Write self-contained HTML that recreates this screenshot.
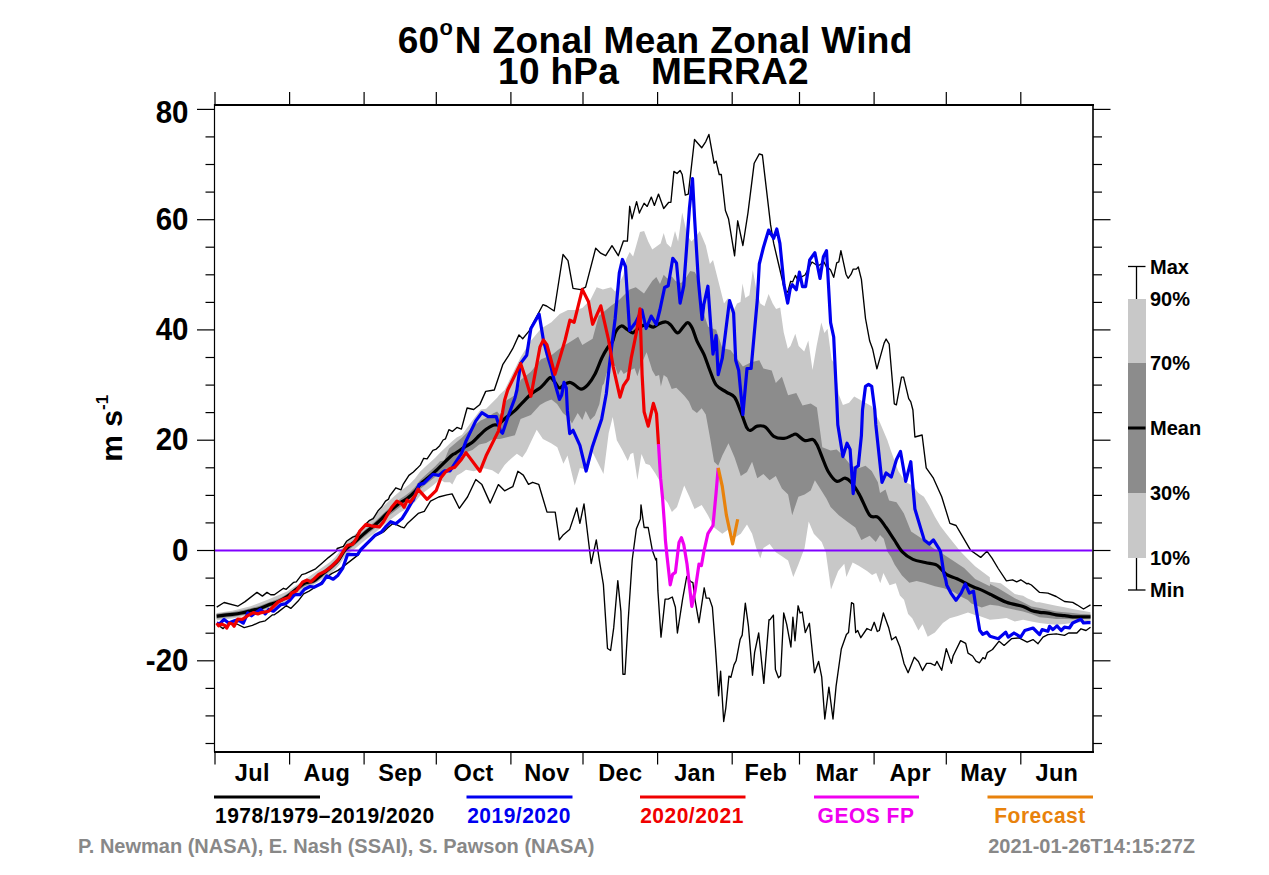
<!DOCTYPE html><html><head><meta charset="utf-8"><style>html,body{margin:0;padding:0;background:#fff;overflow:hidden}svg{display:block}</style></head><body><svg width="1269" height="875" viewBox="0 0 1269 875">
<rect width="100%" height="100%" fill="#fff"/>
<path d="M216.7,613.0 L232.3,610.7 L250.6,606.2 L268.8,599.3 L287.1,591.5 L305.4,579.2 L330.0,562.0 L335.0,557.2 L340.0,551.1 L345.0,543.1 L350.0,538.5 L355.0,534.2 L360.0,529.4 L365.0,524.4 L370.0,519.8 L375.0,515.3 L380.0,510.2 L385.0,504.8 L390.0,500.0 L395.0,495.6 L400.0,491.3 L405.0,487.8 L410.0,483.7 L415.0,478.6 L420.0,471.7 L425.0,466.9 L430.0,462.5 L435.0,457.9 L440.0,452.8 L451.9,441.6 L456.7,437.5 L462.1,434.8 L466.9,427.9 L472.4,420.4 L480.7,409.4 L486.1,408.7 L491.6,403.2 L497.1,397.7 L499.2,395.0 L504.6,390.0 L520.6,357.3 L530.9,340.8 L541.1,328.5 L551.4,322.3 L559.7,314.1 L567.9,309.9 L576.1,309.9 L582.3,307.9 L590.5,299.7 L596.7,287.3 L602.9,289.4 L611.1,287.3 L615.2,291.4 L623.4,275.0 L626.3,258.9 L629.7,252.0 L633.1,256.6 L638.9,236.0 L640.0,232.1 L644.1,231.1 L648.2,241.4 L652.3,249.6 L660.6,243.4 L663.7,233.1 L666.7,243.4 L670.9,247.5 L675.0,231.1 L678.1,241.4 L682.2,212.6 L687.3,235.2 L691.4,241.4 L695.5,237.3 L699.7,231.1 L705.8,245.5 L709.9,264.0 L713.0,259.9 L718.2,280.5 L724.0,303.5 L728.1,298.0 L732.9,311.7 L737.0,303.5 L740.5,302.1 L742.5,283.6 L745.3,298.0 L749.4,295.3 L752.8,269.9 L756.2,288.4 L760.3,303.5 L764.5,306.2 L768.6,293.9 L772.7,303.5 L776.1,309.0 L780.2,307.6 L783.7,332.3 L787.8,348.7 L790.5,346.0 L795.3,333.7 L798.7,346.0 L804.2,351.5 L808.3,340.5 L812.5,370.0 L816.6,346.0 L821.3,322.6 L824.4,332.9 L827.5,328.7 L831.6,359.6 L834.7,363.7 L838.8,394.6 L842.9,404.9 L849.1,402.8 L854.2,396.6 L871.7,406.2 L879.9,422.6 L887.3,440.0 L891.0,451.0 L898.3,471.1 L905.6,482.1 L912.9,485.7 L918.4,493.0 L923.9,496.7 L929.4,505.9 L934.9,516.8 L940.4,526.0 L945.9,533.3 L953.2,542.4 L960.5,551.6 L967.8,558.9 L975.1,566.2 L982.4,571.7 L989.8,577.2 L990.0,581.7 L1000.8,583.3 L1006.5,587.4 L1014.8,594.1 L1019.0,594.9 L1023.1,595.7 L1027.2,598.2 L1031.4,599.9 L1036.3,602.3 L1039.6,602.3 L1047.9,604.0 L1056.2,605.7 L1064.5,607.3 L1072.7,609.0 L1081.0,610.6 L1090.5,612.3 L1090.5,621.4 L1081.0,622.2 L1072.7,623.0 L1064.5,623.9 L1056.2,624.7 L1047.9,623.9 L1039.6,623.0 L1031.4,621.4 L1023.1,619.7 L1014.8,621.4 L1006.5,618.1 L998.3,618.9 L990.0,619.7 L979.4,616.0 L974.9,614.9 L968.0,612.6 L957.7,616.0 L949.7,618.3 L942.9,622.9 L934.9,632.6 L927.7,636.7 L922.5,624.3 L918.4,630.5 L912.2,618.2 L908.1,614.1 L904.0,599.7 L899.9,595.5 L895.8,583.2 L889.6,585.3 L883.4,572.9 L880.3,583.2 L876.2,572.9 L872.1,575.0 L867.0,570.9 L858.7,565.7 L852.6,562.6 L846.4,577.0 L844.3,563.7 L838.2,570.9 L831.0,589.4 L825.8,552.3 L821.7,542.1 L813.8,533.7 L808.7,521.4 L804.6,548.1 L798.4,564.6 L793.3,576.9 L788.1,560.5 L781.9,556.3 L775.8,552.2 L769.6,544.0 L763.4,548.1 L760.3,558.4 L756.2,548.1 L752.1,533.7 L747.0,524.5 L740.8,533.7 L734.6,537.8 L728.5,529.6 L722.3,533.7 L714.1,527.5 L707.9,515.2 L701.7,504.9 L694.5,509.0 L689.4,496.7 L684.2,485.4 L677.0,507.0 L671.9,512.1 L667.8,502.9 L662.6,496.7 L660.0,481.5 L655.2,473.3 L649.7,465.0 L645.6,463.7 L641.5,454.1 L637.4,480.1 L633.3,452.7 L630.5,454.1 L627.8,460.9 L622.3,449.9 L616.8,440.3 L612.7,417.0 L608.7,432.9 L603.5,474.1 L598.4,463.8 L592.2,451.4 L588.1,469.9 L579.9,467.9 L574.7,485.4 L567.5,455.5 L563.4,463.8 L557.3,447.3 L551.1,443.2 L542.9,439.1 L536.7,429.8 L526.4,451.4 L522.3,457.6 L516.9,453.8 L510.7,458.9 L504.6,465.1 L498.4,474.3 L492.2,470.2 L484.0,468.2 L473.7,471.3 L466.0,469.7 L461.4,473.1 L456.9,475.4 L452.3,484.6 L450.0,482.3 L444.3,482.3 L440.0,479.3 L435.0,483.7 L430.0,487.8 L425.0,491.6 L420.0,495.7 L415.0,502.0 L410.0,506.4 L405.0,509.8 L400.0,512.6 L395.0,516.3 L390.0,520.0 L385.0,524.0 L380.0,528.5 L375.0,532.8 L370.0,536.5 L365.0,540.2 L360.0,544.4 L355.0,548.7 L350.0,552.5 L345.0,556.6 L340.0,564.1 L335.0,569.7 L330.0,574.0 L305.4,590.2 L287.1,602.0 L268.8,609.8 L250.6,614.8 L232.3,618.5 L216.7,620.3 Z" fill="#c8c8c8"/>
<path d="M216.5,613.7 L220.5,613.2 L224.5,612.7 L228.5,612.3 L232.5,611.9 L236.5,611.3 L240.5,610.6 L244.5,609.7 L248.5,608.7 L252.5,607.7 L256.5,606.7 L260.5,605.6 L264.5,604.0 L268.5,602.4 L272.5,601.0 L276.5,599.6 L280.5,597.7 L284.5,595.5 L288.5,593.0 L292.5,589.8 L296.5,586.6 L300.5,583.7 L304.5,580.8 L308.5,579.4 L312.5,578.3 L316.5,575.9 L320.5,572.7 L330.0,565.0 L335.0,560.5 L340.0,554.7 L345.0,547.0 L350.0,542.7 L355.0,538.7 L360.0,534.2 L365.0,529.7 L370.0,525.5 L375.0,521.5 L380.0,516.8 L385.0,511.9 L390.0,507.5 L395.0,503.3 L400.0,499.1 L405.0,495.8 L410.0,491.9 L415.0,487.0 L420.0,480.2 L425.0,475.4 L430.0,471.0 L435.0,466.4 L440.0,461.3 L444.3,460.6 L449.1,448.5 L462.1,437.5 L467.6,432.0 L473.8,425.9 L480.7,420.4 L487.5,417.6 L493.0,413.5 L497.1,411.5 L499.9,414.9 L506.6,400.3 L516.9,394.1 L520.6,379.9 L530.9,371.7 L541.1,359.3 L551.4,355.2 L561.7,347.0 L572.0,340.8 L578.2,336.7 L582.3,344.9 L592.6,338.7 L598.7,316.1 L611.1,305.8 L619.3,299.7 L629.6,289.4 L635.8,287.3 L644.0,293.5 L652.2,281.1 L656.3,277.0 L660.0,283.9 L663.7,274.7 L667.3,278.4 L671.9,276.6 L675.5,281.1 L681.0,283.0 L685.6,278.4 L690.2,271.1 L694.7,272.0 L698.4,278.4 L700.0,307.6 L704.1,314.5 L708.2,326.8 L715.1,329.5 L716.1,329.4 L722.3,347.9 L730.5,349.9 L736.7,358.2 L742.9,366.4 L751.1,362.3 L759.3,360.2 L763.4,368.5 L771.7,370.5 L775.8,382.9 L781.9,376.7 L788.1,395.2 L796.3,393.1 L802.5,405.5 L810.7,403.4 L816.9,407.5 L822.3,447.3 L830.6,450.4 L836.7,449.4 L842.9,455.5 L851.1,465.8 L859.4,467.9 L865.5,465.8 L871.7,471.0 L877.9,482.3 L880.0,493.0 L885.5,489.4 L889.1,500.4 L896.5,502.2 L903.8,513.2 L911.1,531.5 L922.1,538.8 L933.0,547.9 L942.2,553.4 L953.2,560.7 L964.1,568.0 L975.1,579.0 L989.8,586.3 L990.0,584.1 L998.3,588.3 L1006.5,593.2 L1014.8,598.2 L1023.1,602.3 L1031.4,606.5 L1039.6,608.1 L1047.9,609.8 L1056.2,611.4 L1064.5,612.3 L1072.7,613.1 L1081.0,613.9 L1090.5,614.3 L1090.5,618.5 L1081.0,618.9 L1072.7,619.3 L1064.5,618.9 L1056.2,618.9 L1047.9,618.1 L1039.6,617.2 L1031.4,613.9 L1023.1,611.4 L1014.8,609.8 L1006.5,608.1 L998.3,605.7 L990.0,604.8 L981.7,607.5 L971.4,603.4 L967.8,600.1 L962.3,597.3 L953.2,591.8 L944.0,588.2 L934.9,586.3 L923.9,582.7 L916.6,580.9 L909.3,582.7 L902.0,575.4 L894.6,564.4 L891.0,557.1 L887.3,551.6 L883.7,538.8 L880.0,535.1 L875.8,541.9 L869.7,535.8 L861.4,539.9 L855.3,527.5 L847.0,521.4 L838.8,515.2 L830.6,507.0 L826.5,498.7 L814.9,480.2 L810.7,490.5 L804.6,494.6 L798.4,496.7 L792.2,515.2 L788.1,494.6 L781.9,488.5 L775.8,476.1 L769.6,480.2 L763.4,474.1 L757.3,478.2 L752.1,461.7 L747.0,472.0 L740.8,476.1 L734.6,457.6 L728.5,443.2 L722.3,455.5 L718.2,465.8 L714.1,461.7 L709.9,437.0 L705.8,414.4 L701.7,408.2 L696.9,412.9 L692.3,409.4 L688.9,401.4 L684.3,395.7 L680.9,392.3 L676.3,387.7 L671.7,388.9 L667.1,377.4 L663.7,375.1 L660.9,386.6 L659.1,375.1 L655.7,376.3 L652.3,370.6 L646.6,352.3 L640.9,364.9 L637.4,376.3 L634.6,368.3 L627.1,371.7 L623.7,374.0 L620.9,369.4 L618.0,375.1 L615.1,366.0 L610.0,363.7 L606.3,374.3 L604.0,383.4 L602.3,385.7 L599.4,404.0 L594.9,415.4 L590.3,420.0 L585.7,410.9 L582.3,420.0 L577.7,413.1 L572.0,423.4 L568.6,417.7 L562.9,413.1 L557.1,404.0 L551.4,399.4 L545.7,401.7 L540.0,405.1 L530.9,414.9 L520.6,419.0 L514.9,435.3 L499.9,438.9 L493.0,438.9 L486.1,443.0 L479.3,444.4 L472.4,449.9 L458.7,455.0 L450.0,470.9 L444.3,474.3 L440.0,472.3 L435.0,476.9 L430.0,481.0 L425.0,484.9 L420.0,489.2 L415.0,495.7 L410.0,500.3 L405.0,504.0 L400.0,507.0 L395.0,510.9 L390.0,514.8 L385.0,519.0 L380.0,523.8 L375.0,528.3 L370.0,532.2 L365.0,536.2 L360.0,540.6 L355.0,545.0 L350.0,549.0 L345.0,553.2 L340.0,560.8 L335.0,566.5 L330.0,571.0 L320.5,578.5 L316.5,581.7 L312.5,584.0 L308.5,584.9 L304.5,586.2 L300.5,589.0 L296.5,591.8 L292.5,594.9 L288.5,598.0 L284.5,600.5 L280.5,602.7 L276.5,604.6 L272.5,606.0 L268.5,607.4 L264.5,609.0 L260.5,610.6 L256.5,611.7 L252.5,612.7 L248.5,613.7 L244.5,614.7 L240.5,615.6 L236.5,616.3 L232.5,616.9 L228.5,617.3 L224.5,617.7 L220.5,618.2 L216.5,618.7 Z" fill="#8c8c8c"/>
<path d="M216.7,607.1 L224.1,602.5 L237.8,606.2 L245.1,601.6 L257.0,592.4 L262.4,596.1 L267.0,592.4 L270.7,594.7 L274.3,594.7 L283.5,588.3 L286.2,589.3 L293.5,582.4 L296.3,581.9 L301.8,574.6 L305.4,573.7 L315.6,568.8 L322.0,563.2 L328.4,557.6 L336.4,551.2 L337.2,548.5 L343.4,546.4 L346.5,541.3 L352.6,537.1 L355.7,536.1 L359.8,531.0 L362.9,526.9 L369.1,520.7 L373.2,518.6 L378.3,510.4 L381.4,507.3 L385.5,501.1 L388.6,499.1 L389.7,496.0 L395.8,487.8 L401.0,489.8 L403.0,484.7 L408.9,475.4 L413.4,472.0 L416.9,468.6 L420.3,465.1 L423.7,458.3 L427.1,458.9 L432.9,450.3 L436.3,449.1 L439.7,445.7 L443.1,440.0 L445.4,438.9 L448.9,429.7 L452.3,431.4 L456.9,427.4 L461.4,429.1 L464.9,416.0 L467.1,408.0 L473.7,409.5 L479.9,404.4 L485.7,391.4 L494.3,390.0 L502.9,364.3 L508.6,355.7 L512.7,348.7 L519.0,334.9 L522.7,338.7 L529.0,331.1 L542.9,304.7 L546.6,306.0 L550.4,308.5 L554.2,311.0 L563.0,254.5 L568.0,260.7 L573.0,288.4 L580.6,289.7 L585.6,287.1 L595.7,248.2 L600.7,253.2 L605.7,255.7 L612.0,245.7 L618.3,255.7 L623.4,241.0 L627.4,241.1 L629.7,206.3 L632.0,218.9 L636.6,201.7 L639.4,213.1 L640.0,211.5 L644.1,203.3 L647.2,206.4 L651.3,197.1 L654.4,205.4 L658.5,194.1 L663.7,208.5 L668.8,202.3 L670.9,202.3 L673.9,171.4 L677.0,173.5 L680.1,170.4 L682.2,174.5 L685.3,195.1 L688.3,194.1 L694.5,139.5 L701.7,147.8 L705.8,141.6 L708.9,134.4 L714.1,163.2 L716.1,161.1 L719.2,174.5 L721.3,174.5 L725.4,210.5 L728.5,218.7 L734.6,255.8 L737.7,220.8 L742.9,245.5 L748.0,212.6 L754.2,163.2 L759.3,153.9 L762.4,155.0 L770.6,224.9 L773.7,243.4 L779.5,268.0 L783.7,286.1 L785.1,290.9 L787.8,292.2 L790.6,281.3 L792.6,281.9 L795.4,275.4 L797.4,279.2 L805.0,275.0 L812.0,262.0 L818.0,266.0 L824.0,262.0 L826.9,268.0 L827.5,267.0 L830.6,270.1 L833.7,277.3 L836.7,262.9 L838.8,261.9 L840.9,250.6 L846.0,274.2 L848.1,278.3 L851.1,274.2 L853.2,269.1 L856.3,269.1 L858.3,267.0 L861.4,279.4 L865.5,318.5 L869.7,341.1 L872.7,349.3 L876.9,368.9 L884.1,343.1 L886.1,339.0 L889.2,344.2 L894.3,403.8 L896.4,404.9 L901.5,377.1 L903.6,377.1 L908.7,398.7 L910.8,401.8 L912.9,410.0 L914.9,437.0 L922.1,435.0 L926.2,467.9 L933.4,478.2 L941.7,496.7 L949.9,523.4 L956.1,525.5 L962.2,535.8 L970.5,550.2 L980.7,557.4 L986.9,551.2 L992.0,558.2 L998.2,568.5 L1006.4,580.8 L1012.6,579.8 L1016.7,581.8 L1020.8,579.8 L1027.0,583.9 L1028.1,583.3 L1031.4,585.0 L1039.6,592.4 L1047.9,593.2 L1056.2,596.5 L1064.5,601.5 L1072.7,602.3 L1076.9,604.8 L1083.5,609.0 L1090.5,604.8" fill="none" stroke="#000" stroke-width="1.35" stroke-linejoin="round"/>
<path d="M216.7,624.0 L223.1,628.6 L228.6,624.0 L236.9,624.0 L244.2,627.6 L252.4,625.4 L259.7,622.2 L265.2,620.8 L272.5,614.8 L274.3,614.8 L278.0,612.1 L286.2,605.7 L290.8,608.4 L298.1,601.1 L303.6,593.8 L309.1,591.1 L318.8,584.8 L325.2,578.4 L331.6,573.6 L338.0,570.4 L344.4,565.6 L358.5,554.6 L360.9,549.5 L369.1,542.3 L375.3,536.1 L383.5,532.0 L387.6,527.9 L392.7,523.8 L396.9,524.8 L401.0,526.9 L404.1,527.9 L407.1,523.8 L418.2,513.4 L424.3,511.4 L430.5,501.1 L438.7,497.0 L447.0,494.9 L452.1,493.9 L459.3,508.3 L467.5,497.0 L475.8,479.5 L481.9,484.6 L490.2,503.1 L498.4,484.6 L504.6,490.8 L512.8,486.7 L517.9,471.3 L523.3,475.1 L528.5,484.3 L532.6,482.3 L538.7,484.3 L547.0,512.1 L555.2,512.1 L559.3,539.9 L563.4,534.7 L569.6,529.6 L576.8,508.0 L579.9,523.4 L584.0,503.9 L591.2,563.5 L596.3,539.9 L599.3,560.0 L603.4,584.7 L607.5,648.5 L610.6,650.5 L613.7,627.9 L617.8,580.6 L620.9,611.4 L622.9,674.2 L625.0,674.2 L628.1,621.7 L632.2,560.0 L636.3,529.1 L640.4,518.9 L641.0,504.9 L644.1,527.5 L648.2,527.5 L652.3,550.2 L655.8,560.0 L656.5,558.4 L657.5,580.0 L657.9,590.9 L661.0,637.1 L665.1,599.1 L668.2,599.1 L672.3,597.0 L675.4,607.3 L677.4,633.0 L682.6,599.1 L686.7,576.5 L690.8,581.6 L692.9,582.6 L694.9,599.1 L699.0,622.7 L704.2,587.8 L706.2,598.1 L709.3,598.1 L712.4,607.3 L715.5,648.5 L718.6,695.8 L720.6,671.1 L723.7,721.5 L725.8,708.1 L728.9,676.2 L730.9,677.3 L734.0,664.9 L736.1,660.8 L740.2,639.2 L742.2,635.1 L745.3,603.2 L748.4,625.8 L752.5,675.2 L754.6,652.6 L758.7,633.0 L763.8,683.4 L769.0,619.7 L770.0,619.7 L773.4,615.1 L775.4,669.6 L778.5,677.8 L780.6,675.8 L783.7,613.0 L786.7,624.3 L790.9,647.0 L792.9,617.1 L795.0,640.8 L798.1,605.8 L800.1,613.0 L802.2,612.0 L805.3,632.6 L809.4,623.3 L814.5,672.7 L818.6,661.4 L821.7,676.8 L824.8,719.0 L828.9,687.1 L833.0,719.0 L836.1,686.1 L841.3,649.0 L846.4,634.6 L848.5,632.6 L851.5,602.7 L853.6,603.8 L855.7,632.6 L857.7,630.5 L860.8,637.7 L867.0,628.5 L871.1,630.5 L874.2,622.3 L877.3,631.5 L879.3,630.5 L883.4,613.0 L888.6,627.4 L891.7,639.8 L895.8,636.7 L899.9,647.0 L904.0,663.4 L908.1,672.7 L914.3,657.3 L918.4,661.4 L922.5,670.6 L926.6,663.4 L930.7,663.4 L934.9,665.5 L936.9,661.4 L941.7,670.3 L946.3,648.6 L951.4,663.4 L953.1,656.0 L960.6,640.6 L965.7,643.4 L968.0,653.1 L972.6,656.0 L976.0,661.1 L979.4,662.9 L982.9,657.7 L985.1,658.9 L987.4,652.6 L992.5,649.5 L999.1,641.2 L1004.1,645.4 L1011.5,638.7 L1019.0,637.9 L1027.2,642.1 L1033.0,639.6 L1038.0,643.7 L1043.0,637.1 L1047.9,634.6 L1056.2,633.8 L1064.5,635.4 L1068.6,633.0 L1076.9,633.0 L1081.0,628.8 L1086.0,630.5 L1090.5,627.2" fill="none" stroke="#000" stroke-width="1.35" stroke-linejoin="round"/>
<line x1="215" y1="550.5" x2="1092" y2="550.5" stroke="#8000ff" stroke-width="2.2"/>
<path d="M216.7,616.2 C217.8,616.1 220.5,615.6 223.1,615.3 C225.7,615.0 229.2,614.8 232.3,614.4 C235.4,614.0 238.4,613.6 241.4,613.0 C244.4,612.4 247.6,611.5 250.6,610.7 C253.6,609.9 256.7,609.4 259.7,608.4 C262.7,607.4 265.8,605.9 268.8,604.8 C271.9,603.7 274.9,603.0 278.0,601.6 C281.1,600.2 284.1,598.7 287.1,596.6 C290.2,594.5 293.2,591.6 296.3,589.3 C299.4,587.0 302.4,584.3 305.4,582.9 C308.3,581.5 311.2,582.2 314.0,580.8 C316.8,579.4 319.3,576.5 322.0,574.4 C324.7,572.3 327.3,570.3 330.0,568.0 C332.7,565.7 335.4,563.9 338.0,560.8 C340.6,557.7 342.4,552.8 345.4,549.5 C348.3,546.2 352.3,544.2 355.7,541.3 C359.1,538.4 362.6,534.9 366.0,532.0 C369.4,529.1 372.8,526.9 376.3,523.8 C379.8,520.7 384.0,516.1 386.9,513.5 C389.8,510.9 391.4,509.8 393.7,508.0 C396.0,506.2 398.3,504.1 400.6,502.5 C402.9,500.9 405.1,500.1 407.4,498.4 C409.7,496.7 412.0,494.7 414.3,492.2 C416.6,489.7 418.8,485.7 421.1,483.3 C423.4,480.9 425.7,479.7 428.0,477.8 C430.3,475.9 430.9,475.4 434.9,471.7 C438.9,467.9 448.5,458.4 451.9,455.3 C455.3,452.2 453.0,454.8 455.3,453.3 C457.6,451.8 462.8,448.2 465.6,446.4 C468.5,444.6 470.1,444.1 472.4,442.3 C474.7,440.5 477.0,437.7 479.3,435.5 C481.6,433.3 483.8,431.0 486.1,429.3 C488.4,427.6 490.9,426.0 493.0,425.2 C495.1,424.4 496.6,425.6 498.5,424.5 C500.4,423.4 501.9,421.1 504.6,418.8 C507.3,416.5 512.2,413.0 514.9,410.6 C517.6,408.2 517.9,407.3 520.6,404.6 C523.3,401.9 527.7,397.1 530.9,394.3 C534.1,391.5 537.7,389.8 540.0,388.0 C542.3,386.2 542.9,385.1 544.6,383.4 C546.3,381.7 548.6,377.9 550.3,377.7 C552.0,377.5 553.4,380.6 554.9,382.3 C556.4,384.0 557.9,387.6 559.4,388.0 C560.9,388.4 562.3,385.6 564.0,384.6 C565.7,383.7 568.0,382.3 569.7,382.3 C571.4,382.3 572.4,383.5 574.3,384.6 C576.2,385.7 578.8,389.1 581.1,389.1 C583.4,389.1 585.7,387.1 588.0,384.6 C590.3,382.1 592.6,378.7 594.9,374.3 C597.2,369.9 599.6,362.7 601.7,358.3 C603.8,353.9 605.6,350.7 607.4,348.0 C609.2,345.3 610.9,344.7 612.3,342.0 C613.7,339.3 614.2,334.4 615.7,331.7 C617.2,329.0 619.5,326.4 621.4,326.0 C623.3,325.6 625.2,328.2 627.1,329.4 C629.0,330.5 630.8,333.3 632.9,332.9 C635.0,332.5 637.4,328.4 639.7,327.1 C642.0,325.8 644.3,324.9 646.6,324.9 C648.9,324.9 651.3,327.3 653.4,327.1 C655.5,326.9 657.0,324.6 659.1,323.7 C661.2,322.8 664.1,321.8 666.0,322.0 C667.9,322.2 668.7,323.1 670.6,324.9 C672.5,326.7 675.3,332.5 677.4,332.9 C679.5,333.3 681.4,328.8 683.1,327.1 C684.8,325.4 686.2,322.4 687.7,322.6 C689.2,322.8 690.8,325.2 692.3,328.3 C693.8,331.4 695.0,336.6 696.9,340.9 C698.8,345.2 701.6,349.2 703.8,354.1 C706.0,359.0 707.8,365.4 709.9,370.5 C712.0,375.6 713.4,381.3 716.1,384.9 C718.9,388.5 723.3,390.0 726.4,392.1 C729.5,394.2 732.2,394.0 734.6,397.3 C737.0,400.6 738.7,406.6 740.8,411.7 C742.9,416.8 745.3,425.0 747.0,428.1 C748.7,431.2 749.4,430.5 751.1,430.2 C752.8,429.9 754.9,426.6 757.3,426.1 C759.7,425.6 762.8,425.4 765.5,427.1 C768.2,428.8 770.6,434.4 773.7,436.3 C776.8,438.2 780.9,438.6 784.0,438.4 C787.1,438.2 790.2,436.0 792.2,435.3 C794.2,434.6 794.2,433.4 796.3,434.3 C798.4,435.2 801.9,439.6 804.6,440.5 C807.4,441.4 810.8,438.7 812.8,439.4 C814.8,440.1 815.3,441.6 816.9,444.6 C818.5,447.6 820.4,453.0 822.3,457.6 C824.2,462.2 826.1,468.1 828.5,472.0 C830.9,475.9 834.0,480.3 836.7,481.3 C839.5,482.3 842.6,478.0 845.0,478.2 C847.4,478.4 848.7,479.6 851.1,482.3 C853.5,485.0 856.3,489.1 859.4,494.6 C862.5,500.1 866.6,511.4 869.7,515.2 C872.8,519.0 875.2,515.2 877.9,517.3 C880.6,519.3 883.4,523.7 886.1,527.5 C888.8,531.3 891.5,535.8 894.3,539.9 C897.0,544.0 899.5,549.0 902.6,552.2 C905.7,555.5 909.1,557.7 912.9,559.4 C916.7,561.1 921.4,561.6 925.2,562.5 C929.0,563.4 932.9,563.6 935.5,564.6 C938.1,565.6 938.7,566.8 940.6,568.5 C942.5,570.2 944.0,572.9 946.7,574.6 C949.4,576.3 953.9,577.3 957.0,578.7 C960.1,580.1 962.5,581.5 965.3,582.9 C968.0,584.3 970.8,585.8 973.5,587.0 C976.2,588.2 979.0,588.9 981.7,590.1 C984.4,591.3 988.5,593.5 989.9,594.2 C991.3,594.9 987.2,592.8 990.0,594.1 C992.8,595.5 1001.0,600.2 1006.5,602.3 C1012.0,604.4 1019.0,605.1 1023.1,606.5 C1027.2,607.9 1028.7,609.6 1031.4,610.6 C1034.2,611.6 1036.8,611.9 1039.6,612.3 C1042.3,612.7 1045.1,612.7 1047.9,613.1 C1050.7,613.5 1053.4,614.4 1056.2,614.8 C1059.0,615.2 1061.8,615.3 1064.5,615.6 C1067.2,615.9 1070.0,616.6 1072.7,616.8 C1075.5,617.0 1078.0,616.8 1081.0,616.8 C1084.0,616.8 1088.9,616.8 1090.5,616.8" fill="none" stroke="#000" stroke-width="3.2" stroke-linejoin="round"/>
<path d="M216.7,623.1 L219.5,624.0 L224.1,619.4 L228.6,623.1 L235.9,620.3 L239.6,620.8 L243.3,623.1 L247.8,613.0 L251.5,615.8 L255.1,613.0 L260.6,609.4 L265.2,613.9 L268.8,609.4 L273.4,611.2 L280.7,604.8 L285.3,603.9 L289.9,600.2 L294.4,594.7 L299.9,594.7 L304.5,589.3 L310.0,586.5 L314.0,587.2 L322.0,583.2 L326.8,576.0 L333.2,579.2 L338.0,575.2 L342.8,568.0 L347.6,554.4 L357.5,554.6 L360.9,549.5 L369.1,541.3 L375.3,535.1 L381.4,532.0 L385.5,526.9 L390.7,521.7 L395.8,523.8 L402.0,518.6 L407.1,510.4 L412.3,501.1 L413.4,500.0 L419.1,484.6 L423.7,483.4 L432.9,474.3 L438.6,475.4 L444.3,470.9 L450.0,470.9 L454.6,464.0 L461.4,453.7 L466.0,441.1 L475.8,420.9 L481.9,412.6 L488.1,416.7 L496.3,416.7 L500.5,431.1 L502.5,433.2 L508.7,414.7 L514.9,398.2 L516.9,390.0 L520.6,363.4 L526.7,355.2 L530.9,328.5 L539.1,314.1 L543.4,340.0 L546.9,353.7 L551.4,368.6 L554.9,383.4 L559.4,399.4 L561.7,394.9 L564.0,382.3 L566.3,388.0 L567.4,410.9 L569.7,433.7 L573.1,430.3 L579.9,445.3 L586.1,471.0 L592.2,447.3 L601.7,418.9 L606.3,393.7 L609.7,362.9 L615.2,318.2 L619.3,272.9 L622.4,259.5 L625.5,266.7 L629.6,330.5 L635.8,322.3 L641.9,309.9 L646.1,328.5 L651.2,316.1 L656.3,324.3 L660.0,309.5 L664.6,287.5 L668.2,285.7 L672.8,258.3 L676.5,262.9 L680.1,303.1 L683.8,285.7 L686.5,249.1 L689.4,208.5 L692.5,178.6 L694.5,216.7 L698.4,281.1 L702.1,319.5 L703.8,304.7 L707.9,286.2 L711.0,329.4 L713.0,354.1 L716.1,335.5 L718.2,374.6 L722.3,358.2 L729.5,300.6 L733.6,312.9 L735.7,360.2 L738.7,370.5 L742.9,414.7 L747.0,368.5 L751.1,368.5 L757.3,300.0 L759.3,264.0 L763.4,247.5 L768.6,230.1 L773.7,238.3 L776.8,229.0 L779.9,243.4 L784.0,284.6 L787.7,303.1 L790.2,288.7 L792.2,284.6 L796.3,289.7 L799.4,272.2 L802.5,286.6 L805.6,286.6 L809.7,259.9 L814.9,252.7 L820.0,278.4 L823.4,256.7 L826.5,250.6 L828.5,285.5 L830.6,322.6 L833.7,337.0 L836.7,400.0 L837.8,424.7 L842.9,456.6 L847.0,443.2 L850.1,449.4 L853.2,493.6 L855.3,467.9 L858.3,465.8 L861.4,435.7 L862.5,410.0 L865.5,386.3 L868.6,384.3 L871.7,386.3 L874.8,410.0 L875.8,424.7 L882.0,482.3 L886.1,473.0 L891.3,477.1 L896.4,459.7 L900.5,451.4 L905.7,481.3 L910.8,461.7 L914.9,509.0 L921.1,529.6 L924.2,539.9 L929.3,544.0 L933.4,539.9 L938.6,548.1 L940.6,552.0 L943.7,572.6 L945.8,580.0 L946.7,584.9 L950.9,593.1 L956.0,600.3 L961.1,593.1 L965.3,583.9 L969.4,593.1 L973.5,591.1 L976.6,611.7 L979.7,630.2 L982.7,634.3 L986.9,632.2 L990.0,636.3 L998.3,638.7 L1005.7,632.1 L1008.2,637.1 L1014.0,633.0 L1020.6,637.1 L1024.8,630.5 L1033.0,628.0 L1039.6,634.6 L1042.1,629.6 L1047.9,631.3 L1049.6,626.3 L1052.9,629.6 L1057.0,625.9 L1061.2,630.5 L1064.5,627.2 L1069.4,628.0 L1072.7,623.0 L1076.9,621.0 L1081.0,619.3 L1083.5,623.0 L1087.6,622.6 L1090.5,622.6" fill="none" stroke="#0000f0" stroke-width="3.2" stroke-linejoin="round"/>
<path d="M216.7,623.1 L218.6,625.8 L221.3,624.0 L225.0,625.4 L226.8,628.1 L229.5,623.1 L232.3,624.0 L234.1,626.3 L237.8,619.0 L242.3,619.4 L246.9,616.2 L253.3,612.6 L257.9,613.9 L261.5,612.6 L268.8,611.2 L272.5,607.5 L278.0,602.0 L283.5,599.3 L289.0,597.5 L291.7,592.9 L296.3,591.1 L302.7,581.9 L307.2,580.1 L310.9,581.9 L318.8,574.4 L325.2,571.2 L331.6,566.4 L338.0,560.0 L344.4,549.5 L347.5,545.4 L352.6,544.3 L356.7,538.2 L359.8,531.0 L366.0,524.3 L371.1,525.8 L379.4,526.9 L383.5,521.7 L387.6,514.5 L391.7,507.3 L396.9,501.1 L402.0,504.2 L404.1,507.3 L407.1,500.1 L410.2,502.2 L415.4,495.0 L418.0,489.1 L427.1,499.4 L431.7,494.9 L436.3,490.3 L440.9,477.7 L445.4,472.0 L450.0,468.6 L454.6,467.4 L461.4,459.4 L466.0,452.6 L479.9,471.3 L486.1,455.8 L498.4,431.1 L502.5,412.6 L504.6,400.3 L507.7,390.0 L520.6,363.4 L524.7,375.8 L530.9,396.3 L540.0,346.9 L543.4,340.0 L546.9,344.6 L550.3,357.1 L554.9,374.3 L559.4,359.4 L565.1,340.0 L569.9,320.2 L574.1,322.3 L582.3,289.4 L588.5,301.7 L592.6,324.3 L600.8,305.8 L608.6,340.0 L613.1,366.3 L620.0,397.1 L623.4,385.7 L628.0,378.9 L631.4,357.1 L634.9,340.0 L637.1,328.6 L640.0,308.8 L642.1,374.6 L644.1,411.7 L648.2,426.1 L653.4,403.4 L656.5,413.7 L658.5,444.6" fill="none" stroke="#f00000" stroke-width="3.2" stroke-linejoin="round"/>
<path d="M658.5,444.2 L660.6,478.2 L662.6,498.7 L664.7,527.5 L665.4,540.0 L667.0,556.0 L670.2,584.8 L672.6,574.4 L675.4,572.4 L679.0,542.4 L681.4,537.6 L683.8,544.8 L687.0,564.0 L691.8,606.4 L695.0,591.2 L699.0,564.0 L701.4,565.6 L703.8,552.0 L707.9,533.7 L713.0,525.5 L716.1,492.6 L718.2,467.9" fill="none" stroke="#f000f0" stroke-width="3.2" stroke-linejoin="round"/>
<path d="M718.2,467.9 L722.3,486.4 L726.4,515.2 L732.6,544.0 L737.7,519.3" fill="none" stroke="#e8820c" stroke-width="3.2" stroke-linejoin="round"/>
<g stroke="#000" fill="none">
<line x1="214.5" y1="104" x2="214.5" y2="752" stroke-width="1.2"/>
<line x1="1093" y1="104" x2="1093" y2="752" stroke-width="1.6"/>
<line x1="214" y1="105" x2="1094" y2="105" stroke-width="2"/>
<line x1="214" y1="752" x2="1094" y2="752" stroke-width="2"/>
<line x1="205.5" y1="743.5" x2="214.5" y2="743.5" stroke-width="1.2"/>
<line x1="1093" y1="743.5" x2="1102.0" y2="743.5" stroke-width="1.2"/>
<line x1="205.5" y1="715.9" x2="214.5" y2="715.9" stroke-width="1.2"/>
<line x1="1093" y1="715.9" x2="1102.0" y2="715.9" stroke-width="1.2"/>
<line x1="205.5" y1="688.4" x2="214.5" y2="688.4" stroke-width="1.2"/>
<line x1="1093" y1="688.4" x2="1102.0" y2="688.4" stroke-width="1.2"/>
<line x1="197.0" y1="660.8" x2="214.5" y2="660.8" stroke-width="1.2"/>
<line x1="1093" y1="660.8" x2="1110.5" y2="660.8" stroke-width="1.2"/>
<line x1="205.5" y1="633.2" x2="214.5" y2="633.2" stroke-width="1.2"/>
<line x1="1093" y1="633.2" x2="1102.0" y2="633.2" stroke-width="1.2"/>
<line x1="205.5" y1="605.6" x2="214.5" y2="605.6" stroke-width="1.2"/>
<line x1="1093" y1="605.6" x2="1102.0" y2="605.6" stroke-width="1.2"/>
<line x1="205.5" y1="578.1" x2="214.5" y2="578.1" stroke-width="1.2"/>
<line x1="1093" y1="578.1" x2="1102.0" y2="578.1" stroke-width="1.2"/>
<line x1="197.0" y1="550.5" x2="214.5" y2="550.5" stroke-width="1.2"/>
<line x1="1093" y1="550.5" x2="1110.5" y2="550.5" stroke-width="1.2"/>
<line x1="205.5" y1="522.9" x2="214.5" y2="522.9" stroke-width="1.2"/>
<line x1="1093" y1="522.9" x2="1102.0" y2="522.9" stroke-width="1.2"/>
<line x1="205.5" y1="495.4" x2="214.5" y2="495.4" stroke-width="1.2"/>
<line x1="1093" y1="495.4" x2="1102.0" y2="495.4" stroke-width="1.2"/>
<line x1="205.5" y1="467.8" x2="214.5" y2="467.8" stroke-width="1.2"/>
<line x1="1093" y1="467.8" x2="1102.0" y2="467.8" stroke-width="1.2"/>
<line x1="197.0" y1="440.2" x2="214.5" y2="440.2" stroke-width="1.2"/>
<line x1="1093" y1="440.2" x2="1110.5" y2="440.2" stroke-width="1.2"/>
<line x1="205.5" y1="412.6" x2="214.5" y2="412.6" stroke-width="1.2"/>
<line x1="1093" y1="412.6" x2="1102.0" y2="412.6" stroke-width="1.2"/>
<line x1="205.5" y1="385.1" x2="214.5" y2="385.1" stroke-width="1.2"/>
<line x1="1093" y1="385.1" x2="1102.0" y2="385.1" stroke-width="1.2"/>
<line x1="205.5" y1="357.5" x2="214.5" y2="357.5" stroke-width="1.2"/>
<line x1="1093" y1="357.5" x2="1102.0" y2="357.5" stroke-width="1.2"/>
<line x1="197.0" y1="329.9" x2="214.5" y2="329.9" stroke-width="1.2"/>
<line x1="1093" y1="329.9" x2="1110.5" y2="329.9" stroke-width="1.2"/>
<line x1="205.5" y1="302.4" x2="214.5" y2="302.4" stroke-width="1.2"/>
<line x1="1093" y1="302.4" x2="1102.0" y2="302.4" stroke-width="1.2"/>
<line x1="205.5" y1="274.8" x2="214.5" y2="274.8" stroke-width="1.2"/>
<line x1="1093" y1="274.8" x2="1102.0" y2="274.8" stroke-width="1.2"/>
<line x1="205.5" y1="247.2" x2="214.5" y2="247.2" stroke-width="1.2"/>
<line x1="1093" y1="247.2" x2="1102.0" y2="247.2" stroke-width="1.2"/>
<line x1="197.0" y1="219.7" x2="214.5" y2="219.7" stroke-width="1.2"/>
<line x1="1093" y1="219.7" x2="1110.5" y2="219.7" stroke-width="1.2"/>
<line x1="205.5" y1="192.1" x2="214.5" y2="192.1" stroke-width="1.2"/>
<line x1="1093" y1="192.1" x2="1102.0" y2="192.1" stroke-width="1.2"/>
<line x1="205.5" y1="164.5" x2="214.5" y2="164.5" stroke-width="1.2"/>
<line x1="1093" y1="164.5" x2="1102.0" y2="164.5" stroke-width="1.2"/>
<line x1="205.5" y1="136.9" x2="214.5" y2="136.9" stroke-width="1.2"/>
<line x1="1093" y1="136.9" x2="1102.0" y2="136.9" stroke-width="1.2"/>
<line x1="197.0" y1="109.4" x2="214.5" y2="109.4" stroke-width="1.2"/>
<line x1="1093" y1="109.4" x2="1110.5" y2="109.4" stroke-width="1.2"/>
<line x1="215.0" y1="92" x2="215.0" y2="104" stroke-width="1.2"/>
<line x1="215.0" y1="752" x2="215.0" y2="764.5" stroke-width="1.2"/>
<line x1="289.6" y1="92" x2="289.6" y2="104" stroke-width="1.2"/>
<line x1="289.6" y1="752" x2="289.6" y2="764.5" stroke-width="1.2"/>
<line x1="364.1" y1="92" x2="364.1" y2="104" stroke-width="1.2"/>
<line x1="364.1" y1="752" x2="364.1" y2="764.5" stroke-width="1.2"/>
<line x1="436.3" y1="92" x2="436.3" y2="104" stroke-width="1.2"/>
<line x1="436.3" y1="752" x2="436.3" y2="764.5" stroke-width="1.2"/>
<line x1="510.9" y1="92" x2="510.9" y2="104" stroke-width="1.2"/>
<line x1="510.9" y1="752" x2="510.9" y2="764.5" stroke-width="1.2"/>
<line x1="583.0" y1="92" x2="583.0" y2="104" stroke-width="1.2"/>
<line x1="583.0" y1="752" x2="583.0" y2="764.5" stroke-width="1.2"/>
<line x1="657.6" y1="92" x2="657.6" y2="104" stroke-width="1.2"/>
<line x1="657.6" y1="752" x2="657.6" y2="764.5" stroke-width="1.2"/>
<line x1="732.2" y1="92" x2="732.2" y2="104" stroke-width="1.2"/>
<line x1="732.2" y1="752" x2="732.2" y2="764.5" stroke-width="1.2"/>
<line x1="799.5" y1="92" x2="799.5" y2="104" stroke-width="1.2"/>
<line x1="799.5" y1="752" x2="799.5" y2="764.5" stroke-width="1.2"/>
<line x1="874.1" y1="92" x2="874.1" y2="104" stroke-width="1.2"/>
<line x1="874.1" y1="752" x2="874.1" y2="764.5" stroke-width="1.2"/>
<line x1="946.3" y1="92" x2="946.3" y2="104" stroke-width="1.2"/>
<line x1="946.3" y1="752" x2="946.3" y2="764.5" stroke-width="1.2"/>
<line x1="1020.8" y1="92" x2="1020.8" y2="104" stroke-width="1.2"/>
<line x1="1020.8" y1="752" x2="1020.8" y2="764.5" stroke-width="1.2"/>
</g>
<text transform="translate(188.5,671.23) scale(1,1.09)" x="0" y="0" font-family="Liberation Sans, sans-serif" font-weight="bold" font-size="29.5" text-anchor="end">-20</text>
<text transform="translate(188.5,561.35) scale(1,1.09)" x="0" y="0" font-family="Liberation Sans, sans-serif" font-weight="bold" font-size="29.5" text-anchor="end">0</text>
<text transform="translate(188.5,450.07) scale(1,1.09)" x="0" y="0" font-family="Liberation Sans, sans-serif" font-weight="bold" font-size="29.5" text-anchor="end">20</text>
<text transform="translate(188.5,340.09) scale(1,1.09)" x="0" y="0" font-family="Liberation Sans, sans-serif" font-weight="bold" font-size="29.5" text-anchor="end">40</text>
<text transform="translate(188.5,230.16) scale(1,1.09)" x="0" y="0" font-family="Liberation Sans, sans-serif" font-weight="bold" font-size="29.5" text-anchor="end">60</text>
<text transform="translate(188.5,122.68) scale(1,1.09)" x="0" y="0" font-family="Liberation Sans, sans-serif" font-weight="bold" font-size="29.5" text-anchor="end">80</text>
<text transform="translate(122,461.7) rotate(-90)" font-family="Liberation Sans, sans-serif" font-weight="bold" font-size="30">m s<tspan font-size="17" dy="-14.5">-1</tspan></text>
<text x="252.3" y="781" font-family="Liberation Sans, sans-serif" font-weight="bold" font-size="23.5" letter-spacing="0.3" text-anchor="middle">Jul</text>
<text x="326.9" y="781" font-family="Liberation Sans, sans-serif" font-weight="bold" font-size="23.5" letter-spacing="0.3" text-anchor="middle">Aug</text>
<text x="400.2" y="781" font-family="Liberation Sans, sans-serif" font-weight="bold" font-size="23.5" letter-spacing="0.3" text-anchor="middle">Sep</text>
<text x="473.6" y="781" font-family="Liberation Sans, sans-serif" font-weight="bold" font-size="23.5" letter-spacing="0.3" text-anchor="middle">Oct</text>
<text x="547.0" y="781" font-family="Liberation Sans, sans-serif" font-weight="bold" font-size="23.5" letter-spacing="0.3" text-anchor="middle">Nov</text>
<text x="620.3" y="781" font-family="Liberation Sans, sans-serif" font-weight="bold" font-size="23.5" letter-spacing="0.3" text-anchor="middle">Dec</text>
<text x="694.9" y="781" font-family="Liberation Sans, sans-serif" font-weight="bold" font-size="23.5" letter-spacing="0.3" text-anchor="middle">Jan</text>
<text x="765.9" y="781" font-family="Liberation Sans, sans-serif" font-weight="bold" font-size="23.5" letter-spacing="0.3" text-anchor="middle">Feb</text>
<text x="836.8" y="781" font-family="Liberation Sans, sans-serif" font-weight="bold" font-size="23.5" letter-spacing="0.3" text-anchor="middle">Mar</text>
<text x="910.2" y="781" font-family="Liberation Sans, sans-serif" font-weight="bold" font-size="23.5" letter-spacing="0.3" text-anchor="middle">Apr</text>
<text x="983.6" y="781" font-family="Liberation Sans, sans-serif" font-weight="bold" font-size="23.5" letter-spacing="0.3" text-anchor="middle">May</text>
<text x="1056.9" y="781" font-family="Liberation Sans, sans-serif" font-weight="bold" font-size="23.5" letter-spacing="0.3" text-anchor="middle">Jun</text>
<text x="655.2" y="53" font-family="Liberation Sans, sans-serif" font-weight="bold" font-size="37" letter-spacing="0.35" text-anchor="middle">60<tspan font-size="22" dy="-18.5">o</tspan><tspan dy="18.5" dx="1.5">N Zonal Mean Zonal Wind</tspan></text>
<text x="653.5" y="84" font-family="Liberation Sans, sans-serif" font-weight="bold" font-size="37" letter-spacing="0.3" text-anchor="middle" xml:space="preserve">10 hPa   MERRA2</text>
<rect x="1128" y="299" width="18" height="64" fill="#c8c8c8"/>
<rect x="1128" y="363" width="18" height="130" fill="#8c8c8c"/>
<rect x="1128" y="493" width="18" height="65" fill="#c8c8c8"/>
<g stroke="#000" stroke-width="1.3"><line x1="1128" y1="266.5" x2="1145.5" y2="266.5"/><line x1="1136.5" y1="266.5" x2="1136.5" y2="299"/><line x1="1136.5" y1="558" x2="1136.5" y2="590"/><line x1="1128" y1="590" x2="1145.5" y2="590"/></g>
<line x1="1128" y1="428" x2="1145.5" y2="428" stroke="#000" stroke-width="3"/>
<text x="1150" y="273.5" font-family="Liberation Sans, sans-serif" font-weight="bold" font-size="20">Max</text>
<text x="1150" y="306.0" font-family="Liberation Sans, sans-serif" font-weight="bold" font-size="20">90%</text>
<text x="1150" y="370.0" font-family="Liberation Sans, sans-serif" font-weight="bold" font-size="20">70%</text>
<text x="1150" y="435.0" font-family="Liberation Sans, sans-serif" font-weight="bold" font-size="20">Mean</text>
<text x="1150" y="500.0" font-family="Liberation Sans, sans-serif" font-weight="bold" font-size="20">30%</text>
<text x="1150" y="565.0" font-family="Liberation Sans, sans-serif" font-weight="bold" font-size="20">10%</text>
<text x="1150" y="597.0" font-family="Liberation Sans, sans-serif" font-weight="bold" font-size="20">Min</text>
<line x1="214" y1="797" x2="320" y2="797" stroke="#000" stroke-width="3"/>
<line x1="466.5" y1="797" x2="572.5" y2="797" stroke="#0000f0" stroke-width="3"/>
<line x1="640" y1="797" x2="745.5" y2="797" stroke="#f00000" stroke-width="3"/>
<line x1="814" y1="797" x2="919" y2="797" stroke="#f000f0" stroke-width="3"/>
<line x1="987.5" y1="797" x2="1093" y2="797" stroke="#e8820c" stroke-width="3"/>
<text transform="translate(215,823) scale(1,1.07)" x="0" y="0" font-family="Liberation Sans, sans-serif" font-weight="bold" font-size="21" letter-spacing="0.5" fill="#000" text-anchor="start">1978/1979&#8211;2019/2020</text>
<text transform="translate(519,823) scale(1,1.07)" x="0" y="0" font-family="Liberation Sans, sans-serif" font-weight="bold" font-size="21" letter-spacing="0.5" fill="#0000f0" text-anchor="middle">2019/2020</text>
<text transform="translate(692,823) scale(1,1.07)" x="0" y="0" font-family="Liberation Sans, sans-serif" font-weight="bold" font-size="21" letter-spacing="0.5" fill="#f00000" text-anchor="middle">2020/2021</text>
<text transform="translate(866,823) scale(1,1.07)" x="0" y="0" font-family="Liberation Sans, sans-serif" font-weight="bold" font-size="21" letter-spacing="0.5" fill="#f000f0" text-anchor="middle">GEOS FP</text>
<text transform="translate(1040,823) scale(1,1.07)" x="0" y="0" font-family="Liberation Sans, sans-serif" font-weight="bold" font-size="21" letter-spacing="0.5" fill="#e8820c" text-anchor="middle">Forecast</text>
<text x="78" y="853" font-family="Liberation Sans, sans-serif" font-weight="bold" font-size="20" fill="#888">P. Newman (NASA), E. Nash (SSAI), S. Pawson (NASA)</text>
<text x="1195" y="853" font-family="Liberation Sans, sans-serif" font-weight="bold" font-size="20" fill="#888" text-anchor="end">2021-01-26T14:15:27Z</text>
</svg></body></html>
